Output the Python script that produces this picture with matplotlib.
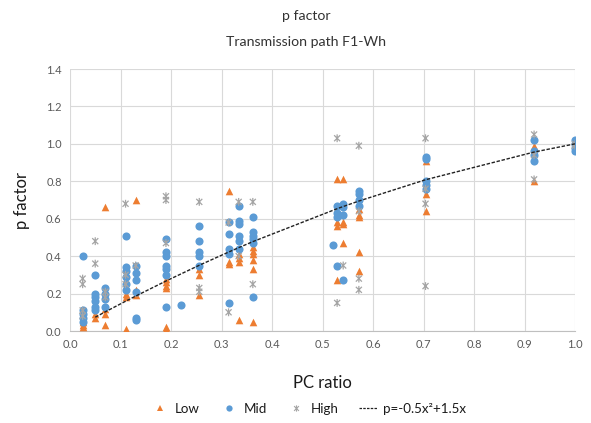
import numpy as np
import matplotlib
matplotlib.use("Agg")
import matplotlib.pyplot as plt
from matplotlib.path import Path
from matplotlib.lines import Line2D

plt.rcParams['font.family'] = ['Lato', 'DejaVu Sans']

# ---- data ----
low_x = ([0.025]*3 + [0.05]*2 + [0.07]*4 + [0.11]*3 + [0.13]*4 + [0.19]*6 +
         [0.256]*3 + [0.314]*3 + [0.334]*4 + [0.362]*6 + [0.529]*4 + [0.541]*4 +
         [0.572]*5 + [0.704]*3 + [0.919]*3 + [1.0])
low_y = [0.03, 0.05, 0.02,
         0.07, 0.09,
         0.66, 0.09, 0.03, 0.12,
         0.18, 0.01, 0.20,
         0.70, 0.32, 0.22, 0.19,
         0.28, 0.26, 0.24, 0.23, 0.02, 0.01,
         0.33, 0.30, 0.19,
         0.75, 0.37, 0.36,
         0.41, 0.39, 0.37, 0.06,
         0.45, 0.43, 0.41, 0.38, 0.33, 0.05,
         0.81, 0.56, 0.58, 0.27,
         0.81, 0.58, 0.57, 0.47,
         0.65, 0.62, 0.61, 0.42, 0.32,
         0.91, 0.73, 0.64,
         0.99, 0.95, 0.80,
         1.00]

mid_x = ([0.025]*5 + [0.05]*6 + [0.07]*4 + [0.11]*6 + [0.13]*6 + [0.19]*7 + [0.22] +
         [0.256]*5 + [0.314]*5 + [0.334]*6 + [0.362]*6 + [0.52] + [0.529]*4 +
         [0.541]*4 + [0.572]*4 + [0.704]*5 + [0.919]*4 + [1.0]*4)
mid_y = [0.40, 0.11, 0.09, 0.07, 0.05,
         0.30, 0.20, 0.18, 0.16, 0.13, 0.11,
         0.23, 0.20, 0.17, 0.13,
         0.51, 0.34, 0.32, 0.29, 0.25, 0.22,
         0.35, 0.31, 0.27, 0.21, 0.07, 0.06,
         0.49, 0.42, 0.40, 0.35, 0.33, 0.30, 0.13,
         0.14,
         0.56, 0.48, 0.42, 0.40, 0.35,
         0.58, 0.52, 0.44, 0.41, 0.15,
         0.67, 0.59, 0.57, 0.51, 0.48, 0.44,
         0.61, 0.53, 0.51, 0.49, 0.47, 0.18,
         0.46,
         0.67, 0.63, 0.61, 0.35,
         0.68, 0.66, 0.62, 0.27,
         0.75, 0.73, 0.70, 0.67,
         0.93, 0.92, 0.80, 0.78, 0.76,
         1.02, 0.96, 0.94, 0.91,
         1.02, 1.00, 0.98, 0.96]

high_x = ([0.025]*4 + [0.05]*2 + [0.07]*2 + [0.11]*3 + [0.13] + [0.19]*3 +
          [0.256]*3 + [0.314]*2 + [0.334]*2 + [0.362]*2 + [0.529]*2 + [0.541] +
          [0.572]*4 + [0.704]*4 + [0.919]*3 + [1.0]*2)
high_y = [0.28, 0.25, 0.11, 0.08,
          0.48, 0.36,
          0.21, 0.18,
          0.68, 0.30, 0.25,
          0.35,
          0.72, 0.70, 0.47,
          0.69, 0.23, 0.21,
          0.58, 0.10,
          0.69, 0.40,
          0.69, 0.25,
          1.03, 0.15,
          0.35,
          0.99, 0.64, 0.28, 0.22,
          1.03, 0.76, 0.68, 0.24,
          1.05, 0.94, 0.81,
          0.99, 1.00]

curve_x = np.array([0.05, 0.07, 0.11, 0.13, 0.19, 0.256, 0.314, 0.334, 0.362,
                    0.529, 0.541, 0.572, 0.704, 0.919, 1.0])
curve_y = -0.5 * curve_x**2 + 1.5 * curve_x

c_low = '#ED7D31'
c_mid = '#5B9BD5'
c_high = '#A5A5A5'
txt = '#595959'

star = Path([(-1, -1), (1, 1), (-1, 1), (1, -1), (0, -1.3), (0, 1.3)],
            [Path.MOVETO, Path.LINETO, Path.MOVETO, Path.LINETO, Path.MOVETO, Path.LINETO])

fig = plt.figure(figsize=(5.91, 4.23), dpi=100)
ax = fig.add_axes([70/591, 1-331/423, 505/591, 262/423])

ax.scatter(low_x, low_y, marker='^', s=30, color=c_low, linewidths=0, zorder=3)
ax.scatter(mid_x, mid_y, marker='o', s=34, color=c_mid, linewidths=0, zorder=3)
ax.scatter(high_x, high_y, marker=star, s=32, facecolors='none', edgecolors=c_high,
           linewidths=0.9, zorder=4)
ax.plot(curve_x, curve_y, color='#222222', lw=1.0, ls=(0, (2.5, 1.2)), zorder=5)

ax.set_xlim(0, 1.0)
ax.set_ylim(0, 1.4)
ax.set_xticks(np.arange(0, 1.01, 0.1))
ax.set_yticks(np.arange(0, 1.41, 0.2))
ax.set_xticklabels([f'{v:.1f}' for v in np.arange(0, 1.01, 0.1)])
ax.set_yticklabels([f'{v:.1f}' for v in np.arange(0, 1.41, 0.2)])
ax.tick_params(length=0, labelsize=8, colors=txt, pad=6)
ax.grid(True, color='#D9D9D9', lw=0.8)
ax.set_axisbelow(True)
for s in ['top', 'right', 'left']:
    ax.spines[s].set_visible(False)
ax.spines['bottom'].set_color('#BFBFBF')
ax.spines['bottom'].set_linewidth(0.8)

fig.text(306/591, 1-16/423, 'p factor', ha='center', va='center', fontsize=10.2, color='#333333')
fig.text(306/591, 1-42/423, 'Transmission path F1-Wh', ha='center', va='center', fontsize=10.2, color='#333333')
fig.text(22/591, 1-200/423, 'p factor', rotation=90, ha='center', va='center', fontsize=12, color='#1a1a1a')
fig.text(322/591, 1-383/423, 'PC ratio', ha='center', va='center', fontsize=12, color='#1a1a1a')

handles = [
    Line2D([], [], marker='^', ls='none', color=c_low, markersize=5, markeredgewidth=0),
    Line2D([], [], marker='o', ls='none', color=c_mid, markersize=4.5, markeredgewidth=0),
    Line2D([], [], marker=star, ls='none', color=c_high, markersize=4.5, markerfacecolor='none', markeredgewidth=0.8),
    Line2D([], [], color='#222222', lw=0.9, ls=(0, (2, 1))),
]
labels = ['Low', 'Mid', 'High', 'p=-0.5x²+1.5x']
fig.legend(handles, labels, loc='center', bbox_to_anchor=(308/591, 1-409/423), ncol=4,
           frameon=False, fontsize=9.6, handlelength=1.4, handletextpad=0.4, columnspacing=1.5,
           labelcolor='#1a1a1a')

fig.savefig('out.png', dpi=100)
